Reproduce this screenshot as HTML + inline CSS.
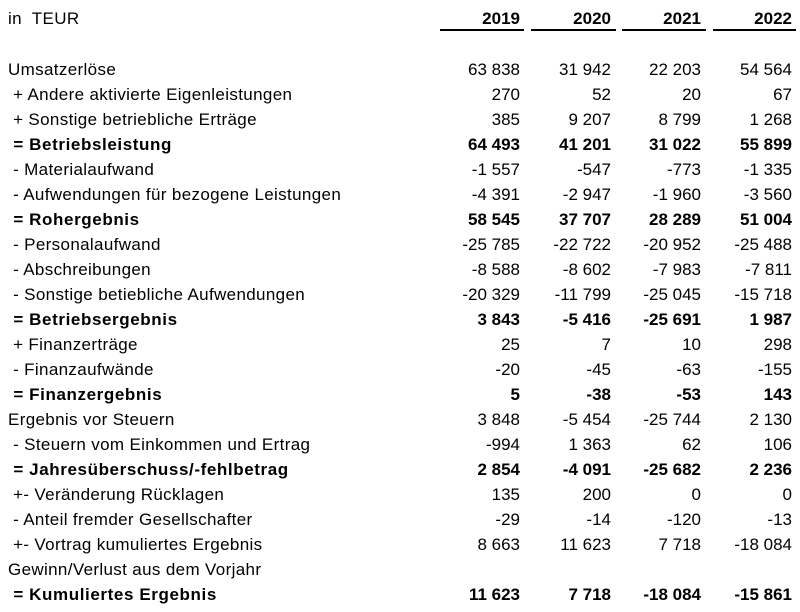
<!DOCTYPE html>
<html><head><meta charset="utf-8"><style>
body{margin:0;background:#fff;width:800px;height:612px;overflow:hidden;font-family:"Liberation Sans",Arial,sans-serif;font-size:17px;color:#000;position:relative}
.r{position:absolute;left:0;width:800px;height:25px;line-height:25px}
.l{position:absolute;left:8px;white-space:pre;letter-spacing:0.35px}
.b .l{letter-spacing:0.6px}
.n{position:absolute;text-align:right;width:90px}
.c1{left:430px}.c2{left:521px}.c3{left:611px}.c4{left:702px}
.b{font-weight:bold}
.u{position:absolute;top:29px;height:2px;background:#000}
</style></head><body>
<div class="r" style="top:6px"><span class="l">in  TEUR</span>
<span class="n c1 b">2019</span><span class="n c2 b">2020</span><span class="n c3 b">2021</span><span class="n c4 b">2022</span></div>
<div class="u" style="left:440px;width:84px"></div>
<div class="u" style="left:531px;width:85px"></div>
<div class="u" style="left:622px;width:84px"></div>
<div class="u" style="left:713px;width:83px"></div>
<div class="r" style="top:57px"><span class="l">Umsatzerlöse</span><span class="n c1">63 838</span><span class="n c2">31 942</span><span class="n c3">22 203</span><span class="n c4">54 564</span></div>
<div class="r" style="top:82px"><span class="l"> + Andere aktivierte Eigenleistungen</span><span class="n c1">270</span><span class="n c2">52</span><span class="n c3">20</span><span class="n c4">67</span></div>
<div class="r" style="top:107px"><span class="l"> + Sonstige betriebliche Erträge</span><span class="n c1">385</span><span class="n c2">9 207</span><span class="n c3">8 799</span><span class="n c4">1 268</span></div>
<div class="r b" style="top:132px"><span class="l"> = Betriebsleistung</span><span class="n c1">64 493</span><span class="n c2">41 201</span><span class="n c3">31 022</span><span class="n c4">55 899</span></div>
<div class="r" style="top:157px"><span class="l"> - Materialaufwand</span><span class="n c1">-1 557</span><span class="n c2">-547</span><span class="n c3">-773</span><span class="n c4">-1 335</span></div>
<div class="r" style="top:182px"><span class="l"> - Aufwendungen für bezogene Leistungen</span><span class="n c1">-4 391</span><span class="n c2">-2 947</span><span class="n c3">-1 960</span><span class="n c4">-3 560</span></div>
<div class="r b" style="top:207px"><span class="l"> = Rohergebnis</span><span class="n c1">58 545</span><span class="n c2">37 707</span><span class="n c3">28 289</span><span class="n c4">51 004</span></div>
<div class="r" style="top:232px"><span class="l"> - Personalaufwand</span><span class="n c1">-25 785</span><span class="n c2">-22 722</span><span class="n c3">-20 952</span><span class="n c4">-25 488</span></div>
<div class="r" style="top:257px"><span class="l"> - Abschreibungen</span><span class="n c1">-8 588</span><span class="n c2">-8 602</span><span class="n c3">-7 983</span><span class="n c4">-7 811</span></div>
<div class="r" style="top:282px"><span class="l"> - Sonstige betiebliche Aufwendungen</span><span class="n c1">-20 329</span><span class="n c2">-11 799</span><span class="n c3">-25 045</span><span class="n c4">-15 718</span></div>
<div class="r b" style="top:307px"><span class="l"> = Betriebsergebnis</span><span class="n c1">3 843</span><span class="n c2">-5 416</span><span class="n c3">-25 691</span><span class="n c4">1 987</span></div>
<div class="r" style="top:332px"><span class="l"> + Finanzerträge</span><span class="n c1">25</span><span class="n c2">7</span><span class="n c3">10</span><span class="n c4">298</span></div>
<div class="r" style="top:357px"><span class="l"> - Finanzaufwände</span><span class="n c1">-20</span><span class="n c2">-45</span><span class="n c3">-63</span><span class="n c4">-155</span></div>
<div class="r b" style="top:382px"><span class="l"> = Finanzergebnis</span><span class="n c1">5</span><span class="n c2">-38</span><span class="n c3">-53</span><span class="n c4">143</span></div>
<div class="r" style="top:407px"><span class="l">Ergebnis vor Steuern</span><span class="n c1">3 848</span><span class="n c2">-5 454</span><span class="n c3">-25 744</span><span class="n c4">2 130</span></div>
<div class="r" style="top:432px"><span class="l"> - Steuern vom Einkommen und Ertrag</span><span class="n c1">-994</span><span class="n c2">1 363</span><span class="n c3">62</span><span class="n c4">106</span></div>
<div class="r b" style="top:457px"><span class="l"> = Jahresüberschuss/-fehlbetrag</span><span class="n c1">2 854</span><span class="n c2">-4 091</span><span class="n c3">-25 682</span><span class="n c4">2 236</span></div>
<div class="r" style="top:482px"><span class="l"> +- Veränderung Rücklagen</span><span class="n c1">135</span><span class="n c2">200</span><span class="n c3">0</span><span class="n c4">0</span></div>
<div class="r" style="top:507px"><span class="l"> - Anteil fremder Gesellschafter</span><span class="n c1">-29</span><span class="n c2">-14</span><span class="n c3">-120</span><span class="n c4">-13</span></div>
<div class="r" style="top:532px"><span class="l"> +- Vortrag kumuliertes Ergebnis</span><span class="n c1">8 663</span><span class="n c2">11 623</span><span class="n c3">7 718</span><span class="n c4">-18 084</span></div>
<div class="r" style="top:557px"><span class="l">Gewinn/Verlust aus dem Vorjahr</span></div>
<div class="r b" style="top:582px"><span class="l"> = Kumuliertes Ergebnis</span><span class="n c1">11 623</span><span class="n c2">7 718</span><span class="n c3">-18 084</span><span class="n c4">-15 861</span></div>
</body></html>
